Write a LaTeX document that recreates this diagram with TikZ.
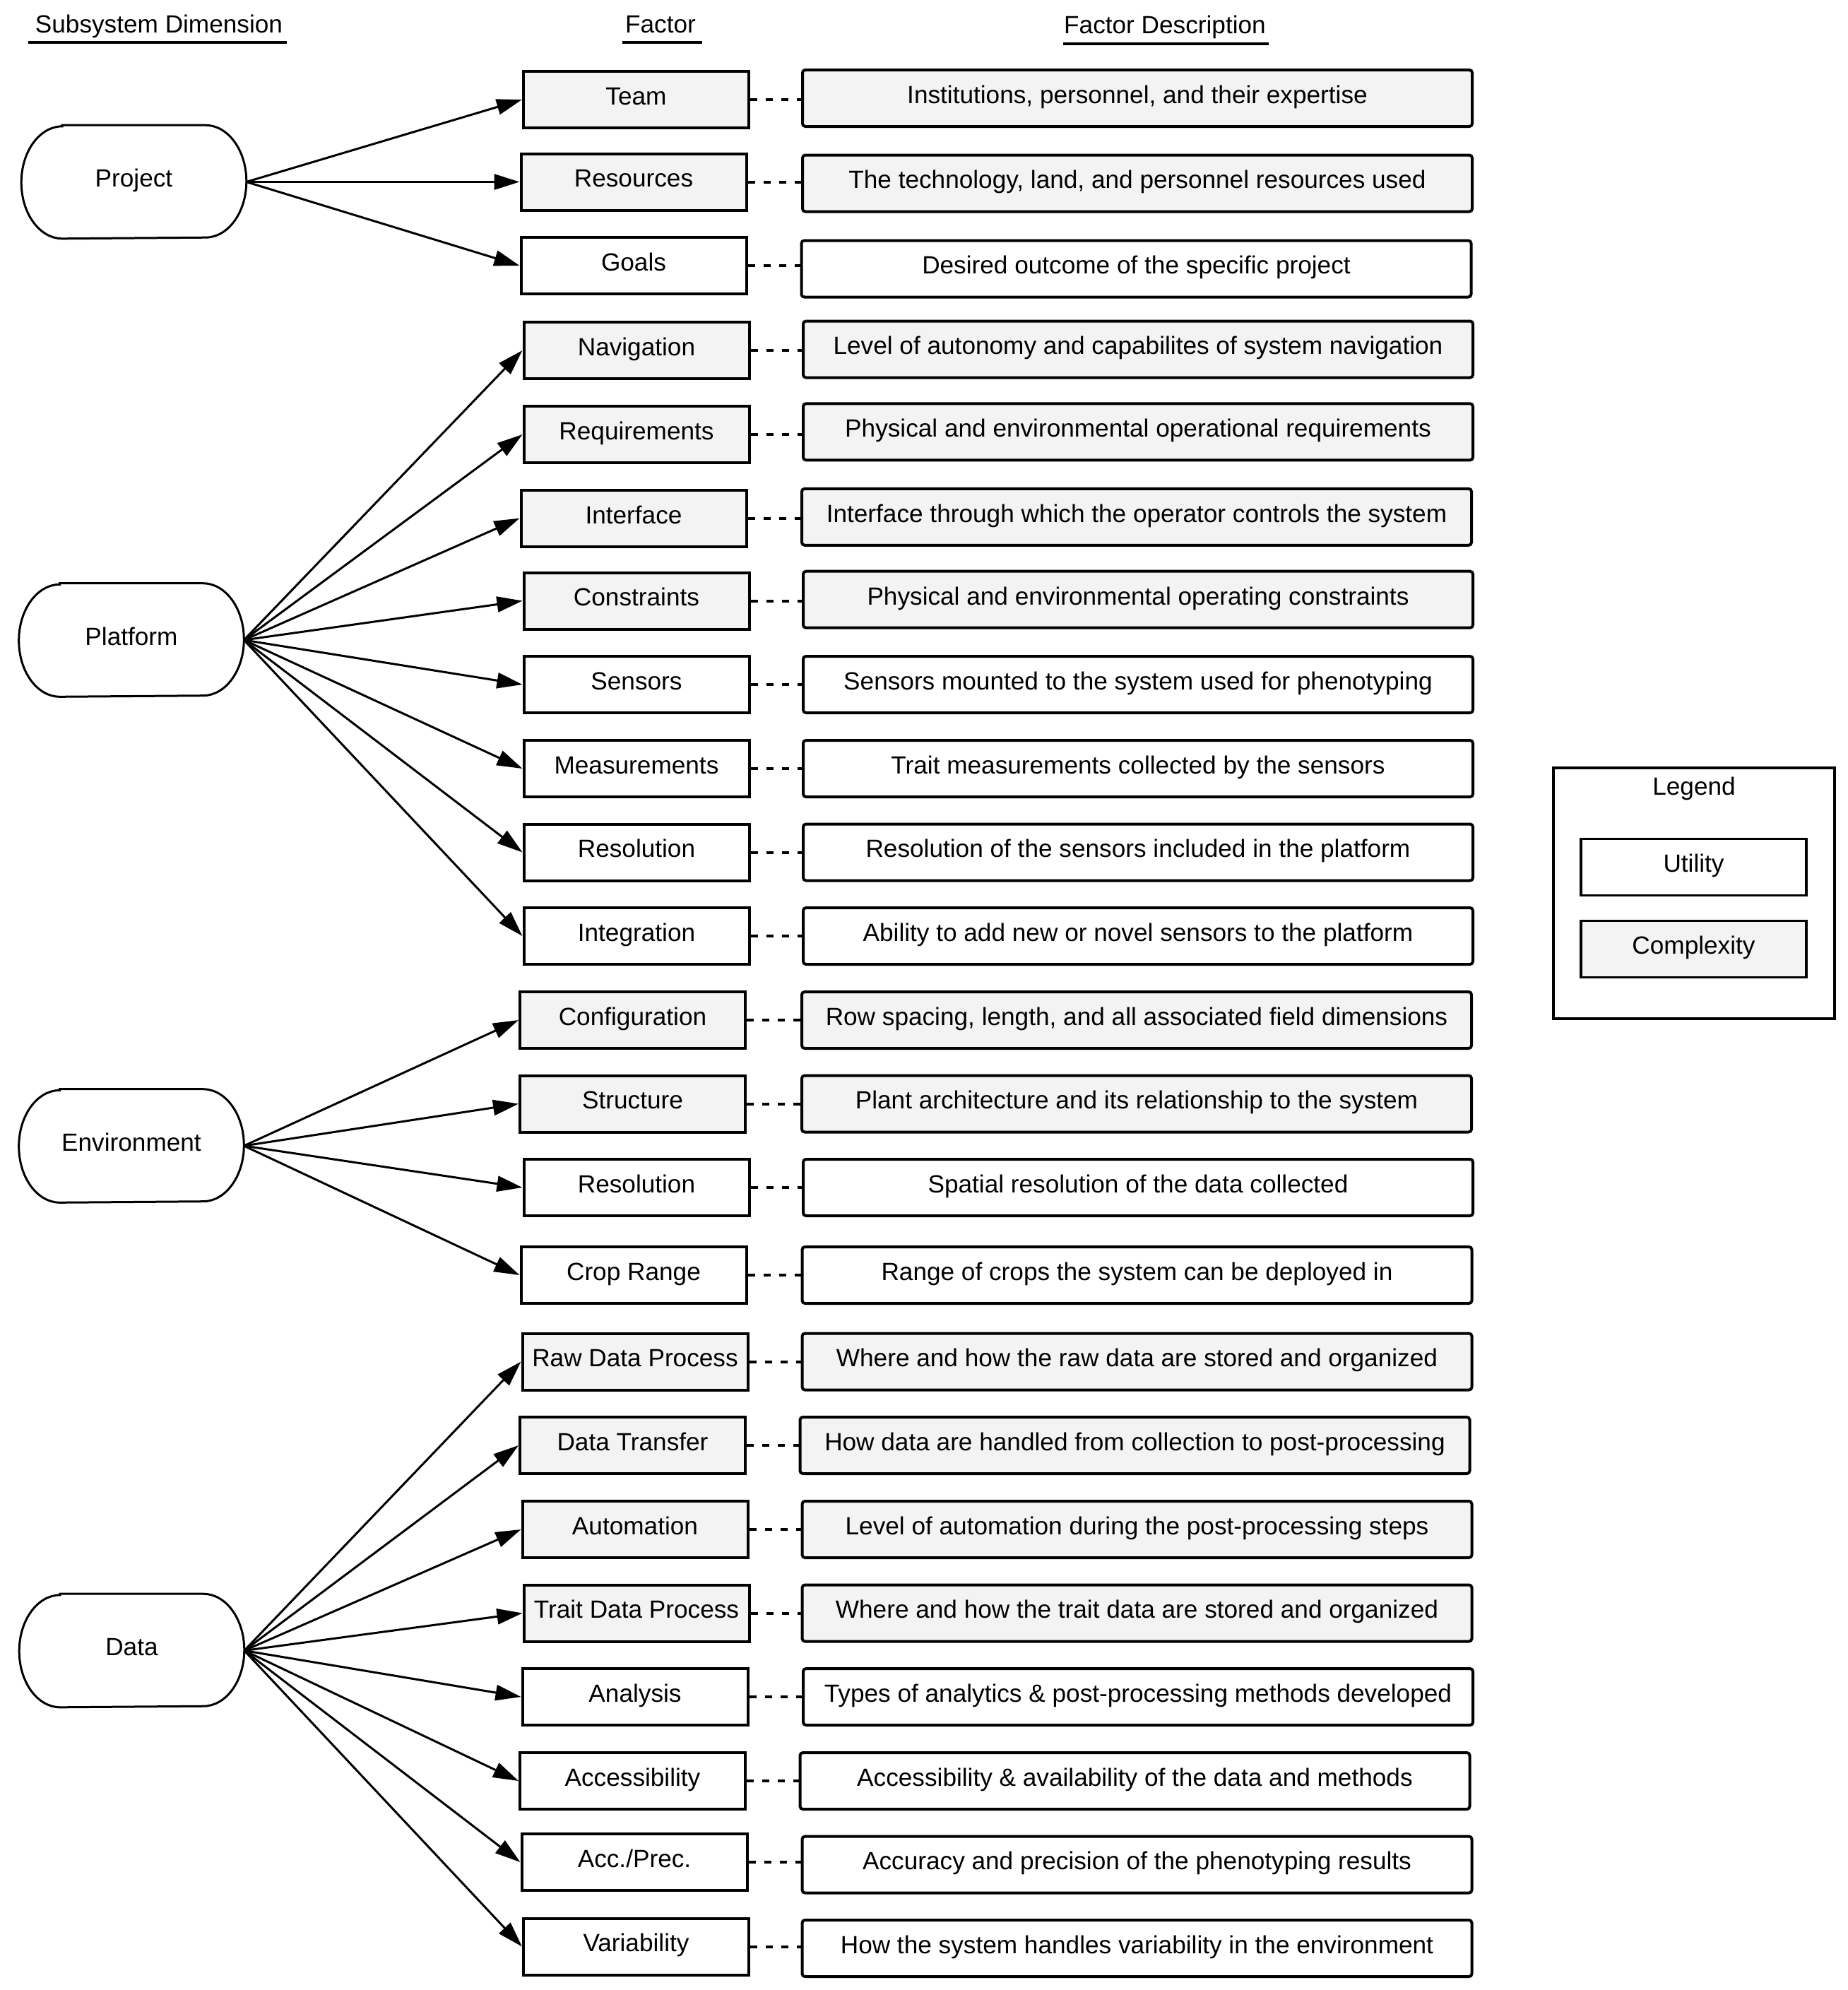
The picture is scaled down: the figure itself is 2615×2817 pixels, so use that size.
\documentclass[tikz,border=0pt]{standalone}
\usepackage{fontspec}
\setmainfont{Liberation Sans}
\usetikzlibrary{arrows.meta}
\definecolor{boxgray}{RGB}{243,243,243}
\newcommand{\pillshape}[1]{\draw[pillline] ([xshift=14.5pt]#1.north west) -- ([xshift=-14.5pt]#1.north east) arc[start angle=90,end angle=-90,x radius=14.5pt,y radius=19.875pt] -- ([xshift=14.5pt]#1.south west) arc[start angle=270,end angle=90,x radius=14.5pt,y radius=19.875pt] -- cycle;}
\begin{document}
\begin{tikzpicture}[x=0.25pt,y=-0.25pt,
  every node/.style={font=\fontsize{8.8pt}{10pt}\selectfont, text height=6.5pt, text depth=2.8pt, inner sep=0pt},
  fbox/.style={draw, line width=1pt, minimum width=79.75pt, minimum height=20pt, fill=white},
  cplx/.style={fill=boxgray},
  dbox/.style={draw, line width=1pt, minimum width=237pt, minimum height=20pt, rounded corners=1pt, fill=white},
  pillnode/.style={minimum width=79.25pt, minimum height=39.75pt},
  pillline/.style={line width=0.75pt},
  arr/.style={line width=0.75pt, -{Triangle[length=9pt,width=5.5pt]}},
  dots/.style={line width=1pt, dash pattern=on 2.5pt off 3pt},
  hdr/.style={anchor=base},
  uline/.style={line width=1pt}
]
\useasboundingbox (0,0) rectangle (2615,2817);

% headers
\node[hdr] (h1) at (225,46.7) {Subsystem Dimension};
\node[hdr] (h2) at (935,46.7) {Factor};
\node[hdr] (h3) at (1649,47.5) {Factor Description};
\draw[uline] (40,60) -- (406,60);
\draw[uline] (881,60) -- (994,60);
\draw[uline] (1505,62) -- (1796,62);

% subsystem pills
\node[pillnode] (project) at (189.5,257.5) {Project};
\node[pillnode] (platform) at (186,906) {Platform};
\node[pillnode] (environment) at (186,1622) {Environment};
\node[pillnode] (data) at (186.5,2336.5) {Data};
\pillshape{project}
\pillshape{platform}
\pillshape{environment}
\pillshape{data}

% factor boxes
\node[fbox,cplx] (team)  at (900.5,141)   {Team};
\node[fbox,cplx] (res)   at (897,257.5)   {Resources};
\node[fbox]      (goals) at (897,376)     {Goals};
\node[fbox,cplx] (nav)   at (901,496)     {Navigation};
\node[fbox,cplx] (req)   at (901,615)     {Requirements};
\node[fbox,cplx] (intf)  at (897,733.6)   {Interface};
\node[fbox,cplx] (cons)  at (901,850.5)   {Constraints};
\node[fbox]      (sens)  at (901,969)     {Sensors};
\node[fbox]      (meas)  at (901,1088)    {Measurements};
\node[fbox]      (resol) at (901,1206.5)  {Resolution};
\node[fbox]      (integ) at (901,1325)    {Integration};
\node[fbox,cplx] (conf)  at (895.5,1444)  {Configuration};
\node[fbox,cplx] (struc) at (895.5,1562.5){Structure};
\node[fbox]      (eres)  at (901,1681)    {Resolution};
\node[fbox]      (crop)  at (897,1805)    {Crop Range};
\node[fbox,cplx] (raw)   at (899,1927.5)  {Raw Data Process};
\node[fbox,cplx] (trans) at (895.5,2046)  {Data Transfer};
\node[fbox,cplx] (auto)  at (899,2165)    {Automation};
\node[fbox,cplx] (trait) at (901,2283.5)  {Trait Data Process};
\node[fbox]      (anal)  at (899,2402)    {Analysis};
\node[fbox]      (acces) at (895.5,2521)  {Accessibility};
\node[fbox]      (accp)  at (898,2636)    {Acc./Prec.};
\node[fbox]      (var)   at (900.5,2755.5){Variability};

% description boxes
\node[dbox,cplx] (teamd)  at (1610,139)    {Institutions, personnel, and their expertise};
\node[dbox,cplx] (resd)   at (1610,259.5)  {The technology, land, and personnel resources used};
\node[dbox]      (goalsd) at (1608.5,380.5){Desired outcome of the specific project};
\node[dbox,cplx] (navd)   at (1611,494.5)  {Level of autonomy and capabilites of system navigation};
\node[dbox,cplx] (reqd)   at (1611,611.3)  {Physical and environmental operational requirements};
\node[dbox,cplx] (intfd)  at (1609,731.8)  {Interface through which the operator controls the system};
\node[dbox,cplx] (consd)  at (1611,848.7)  {Physical and environmental operating constraints};
\node[dbox]      (sensd)  at (1611,969)    {Sensors mounted to the system used for phenotyping};
\node[dbox]      (measd)  at (1611,1088)   {Trait measurements collected by the sensors};
\node[dbox]      (resold) at (1611,1206.5) {Resolution of the sensors included in the platform};
\node[dbox]      (integd) at (1611,1325)   {Ability to add new or novel sensors to the platform};
\node[dbox,cplx] (confd)  at (1609,1444)   {Row spacing, length, and all associated field dimensions};
\node[dbox,cplx] (strucd) at (1609,1562.5) {Plant architecture and its relationship to the system};
\node[dbox]      (eresd)  at (1611,1681)   {Spatial resolution of the data collected};
\node[dbox]      (cropd)  at (1609.5,1805) {Range of crops the system can be deployed in};
\node[dbox,cplx] (rawd)   at (1609.5,1927.5){Where and how the raw data are stored and organized};
\node[dbox,cplx] (transd) at (1606.5,2046) {How data are handled from collection to post-processing};
\node[dbox,cplx] (autod)  at (1609.5,2165) {Level of automation during the post-processing steps};
\node[dbox,cplx] (traitd) at (1609.5,2283.5){Where and how the trait data are stored and organized};
\node[dbox]      (anald)  at (1611,2402)   {Types of analytics \& post-processing methods developed};
\node[dbox]      (accesd) at (1606.5,2521) {Accessibility \& availability of the data and methods};
\node[dbox]      (accpd)  at (1609.5,2639.5){Accuracy and precision of the phenotyping results};
\node[dbox]      (vard)   at (1609.5,2758) {How the system handles variability in the environment};

% dotted links
\foreach \f in {team,res,goals,nav,req,intf,cons,sens,meas,resol,integ,conf,struc,eres,crop,raw,trans,auto,trait,anal,acces,accp,var}
  \draw[dots] (\f.east) -- (\f.east -| \f d.west);

% arrows
\foreach \f in {team,res,goals} \draw[arr] (project.east) -- (\f.west);
\foreach \f in {nav,req,intf,cons,sens,meas,resol,integ} \draw[arr] (platform.east) -- (\f.west);
\foreach \f in {conf,struc,eres,crop} \draw[arr] (environment.east) -- (\f.west);
\foreach \f in {raw,trans,auto,trait,anal,acces,accp,var} \draw[arr] (data.east) -- (\f.west);

% legend
\node[draw, line width=1pt, minimum width=99.5pt, minimum height=88.75pt] (legend) at (2398,1264.5) {};
\node[hdr] (legendtitle) at (2398,1125) {Legend};
\node[fbox, line width=0.85pt] (util) at (2397.5,1227.3) {Utility};
\node[fbox, line width=0.85pt, cplx] (complex) at (2397.5,1343.3) {Complexity};
\end{tikzpicture}
\end{document}
